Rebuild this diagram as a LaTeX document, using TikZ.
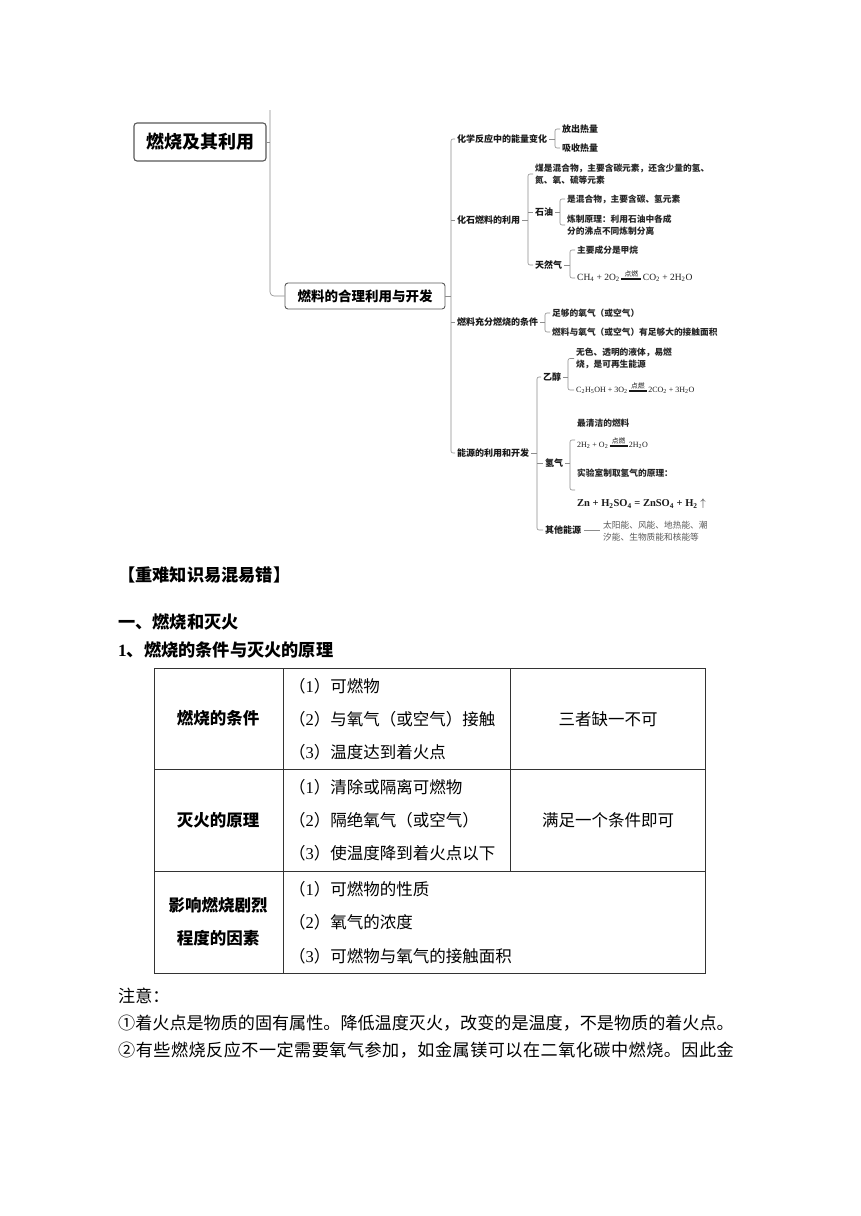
\documentclass[tikz,border=0pt]{standalone}
\usepackage{fontspec}
\setmainfont{Noto Sans CJK SC}
\newfontfamily\tmr{Liberation Serif}
\usetikzlibrary{calc}
\newlength\Lone
\def\spread#1{#1\spreadnext}
\def\spreadnext#1{\ifx#1\relax\else\hskip 0pt plus 1fil#1\expandafter\spreadnext\fi}
\newcommand\lineone{①着火点是物质的固有属性。降低温度灭火，改变的是温度，不是物质的着火点。}
\newcommand\dr[1]{\makebox[#1]{\rlap{\rule[0.15ex]{#1}{0.35pt}}\rlap{\rule[0.5ex]{#1}{0.35pt}}\raisebox{1.0ex}[0pt][0pt]{\makebox[#1]{\rmfamily\fontsize{6.8}{7}\selectfont 点燃}}}}
\newcommand\sub[1]{\textsubscript{#1}}
\begin{document}
\begin{tikzpicture}[x=1pt,y=-1pt,
  mm/.style={draw=black!45, line width=0.6pt},
  lab/.style={anchor=west, inner sep=0pt, text=black!90, font=\fontsize{9}{11}\selectfont\bfseries},
  leaf/.style={anchor=west, inner sep=0pt, align=left, text=black!85, font=\fontsize{8.7}{12}\selectfont\bfseries},
  frm/.style={anchor=west, inner sep=0pt, text=black!90},
  body/.style={anchor=west, inner sep=0pt, font=\fontsize{17.1}{20}\selectfont},
  hd/.style={body, font=\fontsize{17.2}{20}\selectfont\bfseries},
  cell/.style={inner sep=0pt, font=\fontsize{16.5}{20}\selectfont},
  cellb/.style={cell, align=center, font=\fontsize{16.5}{33}\selectfont\bfseries},
  tbl/.style={draw=black!80, line width=0.8pt}]
\useasboundingbox (0,0) rectangle (860,1216);
\fill[white] (0,0) rectangle (860,1216);

% ---------------- mind map ----------------
\node[draw=black!65, line width=1.1pt, rounded corners=3pt, minimum width=132pt, minimum height=38pt, inner sep=0pt, font=\fontsize{18}{20}\selectfont\bfseries] (root) at (200,142) {燃烧及其利用};
\node[draw=black!65, line width=0.9pt, rounded corners=3pt, minimum width=160pt, minimum height=26pt, inner sep=0pt, font=\fontsize{13.5}{15}\selectfont\bfseries] (box2) at (365,296) {燃料的合理利用与开发};
\coordinate (top0) at (270,110);
\coordinate (v0) at (270,0);
\coordinate (v1) at (451,0);
\coordinate (vA) at (555,0);
\coordinate (vB) at (528,0);
\coordinate (vP) at (560,0);
\coordinate (vN) at (570,0);
\coordinate (vC) at (545,0);
\coordinate (vD) at (537,0);
\coordinate (vE) at (568,0);
\coordinate (vH) at (570,0);

\node[lab] (A) at (457,139) {化学反应中的能量变化};
\node[lab] (A1) at (562,129) {放出热量};
\node[lab] (A2) at (562,148) {吸收热量};

\node[lab] (B) at (457,220) {化石燃料的利用};
\node[leaf] (B1) at (535,174) {煤是混合物，主要含碳元素，还含少量的氢、\\氮、氧、硫等元素};
\node[lab] (B2) at (535,212) {石油};
\node[leaf] (P1) at (567,199) {是混合物，主要含碳、氢元素};
\node[leaf] (P2) at (567,225) {炼制原理：利用石油中各成\\分的沸点不同炼制分离};
\node[lab] (B3) at (535,265) {天然气};
\node[leaf] (N1) at (577,250) {主要成分是甲烷};
\node[frm, font=\tmr\fontsize{9.5}{11}\selectfont] (N2) at (577,278) {CH\sub{4} + 2O\sub{2}\,\dr{20pt}\,CO\sub{2} + 2H\sub{2}O};

\node[lab] (C) at (457,322) {燃料充分燃烧的条件};
\node[leaf] (C1) at (552,313) {足够的氧气（或空气）};
\node[leaf] (C2) at (552,332) {燃料与氧气（或空气）有足够大的接触面积};

\node[lab] (D) at (457,453) {能源的利用和开发};
\node[lab] (D1) at (543,377) {乙醇};
\node[leaf] (E1) at (576,358.5) {无色、透明的液体，易燃\\烧，是可再生能源};
\node[frm, font=\tmr\fontsize{8}{10}\selectfont] (E2) at (576,390) {C\sub{2}H\sub{5}OH + 3O\sub{2}\,\dr{18pt}\,2CO\sub{2} + 3H\sub{2}O};
\node[lab] (D2) at (545,463) {氢气};
\node[leaf] (H0) at (577,423) {最清洁的燃料};
\node[frm, font=\tmr\fontsize{8}{10}\selectfont] (H1) at (577,445) {2H\sub{2} + O\sub{2}\,\dr{18pt}\,2H\sub{2}O};
\node[leaf] (H2) at (577,473) {实验室制取氢气的原理：};
\node[frm, font=\tmr\fontsize{10.5}{12}\selectfont\bfseries] (H3) at (577,504) {Zn + H\sub{2}SO\sub{4} = ZnSO\sub{4} + H\sub{2} $\uparrow$};
\coordinate (ht) at (575,440);
\coordinate (hb) at (575,490);
\node[lab] (D3) at (545,530) {其他能源};
\node[leaf, font=\fontsize{8.7}{12}\selectfont, text=black!65] (O1) at (603,531) {太阳能、风能、地热能、潮\\汐能、生物质能和核能等};

% connectors
\draw[mm] (root.east) -- (v0 |- root.east);
\draw[mm, rounded corners=4pt] (top0) -- (v0 |- box2.west) -- (box2.west);
\draw[mm] (box2.east) -- (v1 |- box2.east);
\draw[mm, rounded corners=2pt] ([xshift=-2pt]A.west) -- (v1 |- A.west) -- (v1 |- D.west) -- ([xshift=-2pt]D.west);
\draw[mm] (v1 |- B.west) -- ([xshift=-2pt]B.west);
\draw[mm] (v1 |- C.west) -- ([xshift=-2pt]C.west);

\draw[mm] ([xshift=2pt]A.east) -- (vA |- A.east);
\draw[mm, rounded corners=2pt] ([xshift=-2pt]A1.west) -- (vA |- A1.west) -- (vA |- A2.west) -- ([xshift=-2pt]A2.west);

\draw[mm] ([xshift=2pt]B.east) -- (vB |- B.east);
\draw[mm, rounded corners=2pt] ([xshift=-2pt]B1.west) -- (vB |- B1.west) -- (vB |- B3.west) -- ([xshift=-2pt]B3.west);
\draw[mm] (vB |- B2.west) -- ([xshift=-2pt]B2.west);

\draw[mm] ([xshift=2pt]B2.east) -- (vP |- B2.east);
\draw[mm, rounded corners=2pt] ([xshift=-2pt]P1.west) -- (vP |- P1.west) -- (vP |- P2.west) -- ([xshift=-2pt]P2.west);

\draw[mm] ([xshift=2pt]B3.east) -- (vN |- B3.east);
\draw[mm, rounded corners=2pt] ([xshift=-2pt]N1.west) -- (vN |- N1.west) -- (vN |- N2.west) -- ([xshift=-2pt]N2.west);

\draw[mm] ([xshift=2pt]C.east) -- (vC |- C.east);
\draw[mm, rounded corners=2pt] ([xshift=-2pt]C1.west) -- (vC |- C1.west) -- (vC |- C2.west) -- ([xshift=-2pt]C2.west);

\draw[mm] ([xshift=2pt]D.east) -- (vD |- D.east);
\draw[mm, rounded corners=2pt] ([xshift=-2pt]D1.west) -- (vD |- D1.west) -- (vD |- D3.west) -- ([xshift=-2pt]D3.west);
\draw[mm] (vD |- D2.west) -- ([xshift=-2pt]D2.west);

\draw[mm] ([xshift=2pt]D1.east) -- (vE |- D1.east);
\draw[mm, rounded corners=2pt] ([xshift=-2pt]E1.west) -- (vE |- E1.west) -- (vE |- E2.west) -- ([xshift=-2pt]E2.west);

\draw[mm] ([xshift=2pt]D2.east) -- (vH |- D2.east);
\draw[mm, rounded corners=2pt] (ht) -- (vH |- ht) -- (vH |- hb) -- (hb);

\draw[mm] ([xshift=3pt]D3.east) -- ([xshift=-3pt]O1.west |- D3.east);

% ---------------- text section ----------------
\node[hd] (h1) at (118,575) {【重难知识易混易错】};
\node[hd] (h2) at (118,622) {一、燃烧和灭火};
\node[hd] (h3) at (118,650) {{\tmr 1}、燃烧的条件与灭火的原理};

% table
\draw[tbl] (154,668) rectangle (705,973);
\draw[tbl] (154,769) -- (705,769);
\draw[tbl] (154,871) -- (705,871);
\draw[tbl] (283,668) -- (283,973);
\draw[tbl] (510,668) -- (510,871);

\node[cellb] (r1c1) at (218,718) {燃烧的条件};
\node[cell, anchor=west] (r1a) at (289,686) {（{\tmr 1}）可燃物};
\node[cell, anchor=west] (r1b) at (289,719) {（{\tmr 2}）与氧气（或空气）接触};
\node[cell, anchor=west] (r1c) at (289,752) {（{\tmr 3}）温度达到着火点};
\node[cell] (r1c3) at (608,719) {三者缺一不可};

\node[cellb] (r2c1) at (218,820) {灭火的原理};
\node[cell, anchor=west] (r2a) at (289,787) {（{\tmr 1}）清除或隔离可燃物};
\node[cell, anchor=west] (r2b) at (289,820) {（{\tmr 2}）隔绝氧气（或空气）};
\node[cell, anchor=west] (r2c) at (289,853) {（{\tmr 3}）使温度降到着火点以下};
\node[cell] (r2c3) at (608,820) {满足一个条件即可};

\node[cellb] (r3c1) at (218,922) {影响燃烧剧烈\\程度的因素};
\node[cell, anchor=west] (r3a) at (289,889) {（{\tmr 1}）可燃物的性质};
\node[cell, anchor=west] (r3b) at (289,922) {（{\tmr 2}）氧气的浓度};
\node[cell, anchor=west] (r3c) at (289,956) {（{\tmr 3}）可燃物与氧气的接触面积};

\node[body] (n0) at (118,996) {注意：};
\node[body] (n1) at (118,1023) {\lineone};
\node[body] (n2) at (118,1050) {\settowidth\Lone{\lineone}\hbox to \Lone{\spread②有些燃烧反应不一定需要氧气参加，如金属镁可以在二氧化碳中燃烧。因此金\relax}};
\end{tikzpicture}
\end{document}
